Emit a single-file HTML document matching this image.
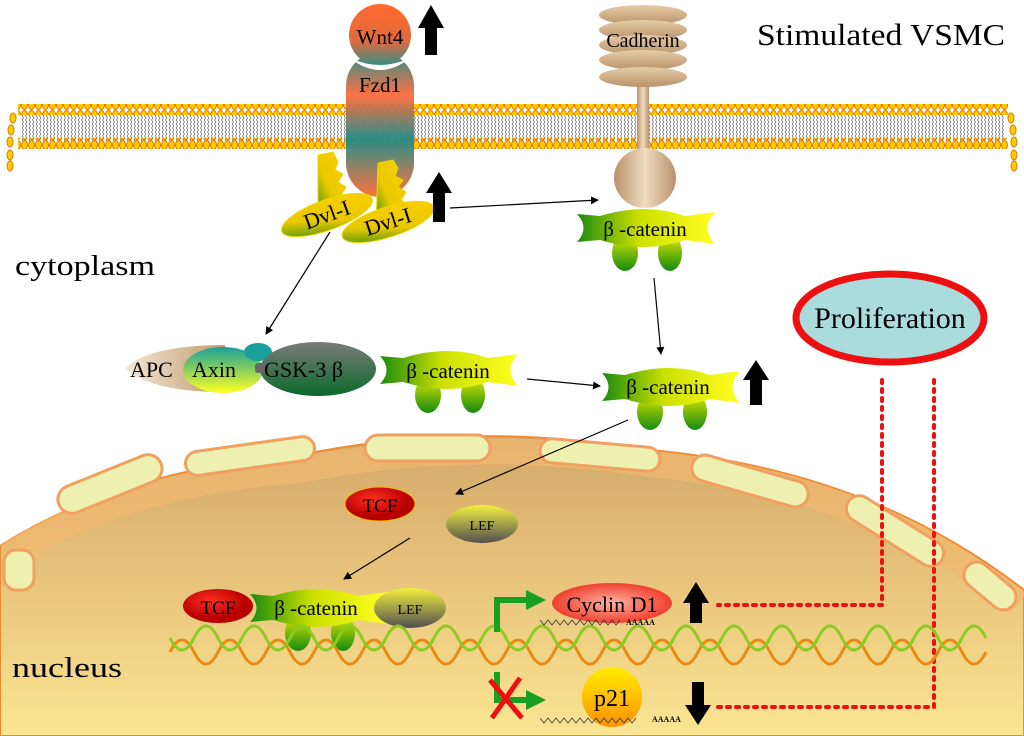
<!DOCTYPE html>
<html><head><meta charset="utf-8"><style>
html,body{margin:0;padding:0;background:#fff}
svg{display:block}
text{font-family:"Liberation Serif",serif}
</style></head><body>
<svg width="1024" height="736" viewBox="0 0 1024 736" xmlns="http://www.w3.org/2000/svg">
<defs>
<linearGradient id="nuc" x1="0" y1="0" x2="0" y2="1">
<stop offset="0" stop-color="#d2a868"/><stop offset="0.5" stop-color="#e9c57c"/><stop offset="1" stop-color="#fbe592"/></linearGradient>
<linearGradient id="wnt" x1="0" y1="0" x2="0" y2="1"><stop offset="0" stop-color="#ff6a2a"/><stop offset="0.6" stop-color="#e06a40"/><stop offset="1" stop-color="#2e8f86"/></linearGradient>
<linearGradient id="fzd" x1="0" y1="0" x2="0" y2="1"><stop offset="0" stop-color="#1f8a86"/><stop offset="0.3" stop-color="#ff6a3a"/><stop offset="0.6" stop-color="#1f8a86"/><stop offset="1" stop-color="#ff6a30"/></linearGradient>
<linearGradient id="bc" x1="0" y1="0" x2="1" y2="0"><stop offset="0" stop-color="#1a8a10"/><stop offset="0.45" stop-color="#cce000"/><stop offset="1" stop-color="#ffff20"/></linearGradient>
<linearGradient id="foot" x1="0" y1="0" x2="0" y2="1"><stop offset="0" stop-color="#e0e800"/><stop offset="1" stop-color="#148a10"/></linearGradient>
<linearGradient id="dvl" x1="1" y1="0" x2="0" y2="1"><stop offset="0" stop-color="#ffd000"/><stop offset="0.6" stop-color="#e8c800"/><stop offset="1" stop-color="#2a8a10"/></linearGradient>
<linearGradient id="cad" x1="0" y1="0" x2="0" y2="1"><stop offset="0" stop-color="#e8cca8"/><stop offset="1" stop-color="#b8926a"/></linearGradient>
<linearGradient id="cad2" x1="0" y1="0" x2="1" y2="0"><stop offset="0" stop-color="#b8926a"/><stop offset="0.5" stop-color="#f0dcc0"/><stop offset="1" stop-color="#b8926a"/></linearGradient>
<radialGradient id="tcf" cx="0.4" cy="0.35"><stop offset="0" stop-color="#ff3020"/><stop offset="1" stop-color="#b80000"/></radialGradient>
<linearGradient id="lef" x1="0" y1="0" x2="0" y2="1"><stop offset="0" stop-color="#f4f040"/><stop offset="1" stop-color="#505050"/></linearGradient>
<radialGradient id="cyc" cx="0.5" cy="0.5"><stop offset="0" stop-color="#ffb0a0"/><stop offset="1" stop-color="#f04030"/></radialGradient>
<linearGradient id="p21" x1="0" y1="0" x2="0" y2="1"><stop offset="0" stop-color="#ffee00"/><stop offset="1" stop-color="#ff9000"/></linearGradient>
<linearGradient id="gsk" x1="0" y1="0" x2="0" y2="1"><stop offset="0" stop-color="#7a7a7a"/><stop offset="1" stop-color="#0a6a2a"/></linearGradient>
<linearGradient id="axin" x1="0" y1="0" x2="0" y2="1"><stop offset="0" stop-color="#1aa09a"/><stop offset="1" stop-color="#ffff20"/></linearGradient>
<linearGradient id="apc" x1="0" y1="0" x2="1" y2="0"><stop offset="0" stop-color="#f4e8d8"/><stop offset="1" stop-color="#c09a6a"/></linearGradient>
<pattern id="heads" x="0" y="0" width="7" height="10" patternUnits="userSpaceOnUse"><ellipse cx="3.5" cy="5" rx="3" ry="4.5" fill="#ffcc00" stroke="#e07a00" stroke-width="1"/></pattern>
<pattern id="tails" x="0" y="0" width="3.5" height="8" patternUnits="userSpaceOnUse"><path d="M1 0 L2.5 2 L1 4 L2.5 6 L1 8" stroke="#444" stroke-width="0.6" fill="none"/></pattern>
<marker id="ah" markerWidth="8" markerHeight="8" refX="7" refY="4" orient="auto" markerUnits="userSpaceOnUse"><path d="M0 0 L8 4 L0 8 Z" fill="#000"/></marker>
<g id="bcat">
<ellipse cx="-20" cy="25" rx="13" ry="18" fill="url(#foot)"/>
<ellipse cx="25" cy="25" rx="12" ry="18" fill="url(#foot)"/>
<path d="M-68 -14 L-45 -12 Q0 -26 40 -12 L70 -16 Q55 0 70 16 L40 12 Q0 26 -45 12 L-68 14 Q-55 0 -68 -14 Z" fill="url(#bc)"/>
</g>
</defs>

<!-- nucleus -->
<path d="M0 546 Q120 470 300 455 Q470 420 650 450 Q870 470 1024 590 L1024 736 L0 736 Z" fill="url(#nuc)" stroke="#f08a30" stroke-width="2"/>
<path d="M8 556 Q120 484 300 470 Q470 436 650 464 Q870 484 1018 604" fill="none" stroke="#f0b870" stroke-width="26" opacity="0.75"/>
<g fill="#eef0b0" stroke="#f0a060" stroke-width="3">
<rect x="55" y="470" width="110" height="28" rx="14" transform="rotate(-22 110 484)"/>
<rect x="185" y="444" width="130" height="24" rx="12" transform="rotate(-8 250 456)"/>
<rect x="365" y="435" width="125" height="26" rx="13"/>
<rect x="540" y="443" width="120" height="24" rx="12" transform="rotate(5 600 455)"/>
<rect x="690" y="468" width="120" height="26" rx="13" transform="rotate(16 750 481)"/>
<rect x="840" y="518" width="110" height="26" rx="13" transform="rotate(32 895 531)"/>
<rect x="960" y="573" width="60" height="26" rx="13" transform="rotate(40 990 586)"/>
<rect x="4" y="550" width="30" height="40" rx="12"/>
</g>

<!-- membrane -->
<rect x="20" y="114" width="985" height="28" fill="url(#tails)"/>
<rect x="18" y="104" width="990" height="11" fill="url(#heads)"/>
<rect x="18" y="138" width="990" height="11" fill="url(#heads)"/>
<g fill="#ffcc00" stroke="#e07a00" stroke-width="1">
<ellipse cx="13" cy="118" rx="3" ry="5"/><ellipse cx="11" cy="130" rx="3" ry="5"/><ellipse cx="10" cy="142" rx="3" ry="5"/><ellipse cx="10" cy="155" rx="3" ry="5"/><ellipse cx="10" cy="166" rx="3" ry="5"/>
<ellipse cx="1011" cy="118" rx="3" ry="5"/><ellipse cx="1013" cy="130" rx="3" ry="5"/><ellipse cx="1014" cy="142" rx="3" ry="5"/><ellipse cx="1014" cy="155" rx="3" ry="5"/><ellipse cx="1014" cy="166" rx="3" ry="5"/>
</g>

<!-- Wnt4 / Fzd1 -->
<rect x="346" y="52" width="68" height="145" rx="34" fill="url(#fzd)" opacity="0.95"/>
<circle cx="380" cy="35" r="31" fill="url(#wnt)"/>
<path d="M350 58 Q380 82 410 58 Q380 72 350 58 Z" fill="#fff"/>
<text x="380" y="44" font-size="21" text-anchor="middle">Wnt4</text>
<text x="380" y="92" font-size="21" text-anchor="middle">Fzd1</text>
<path d="M425 55 L425 28 L418 28 L431 5 L444 28 L437 28 L437 55 Z" fill="#000"/>

<!-- Dvl-I -->
<g fill="url(#dvl)" stroke="#e8d800" stroke-width="1">
<path d="M318 155 L333 152 L338 162 L335 170 L343 174 L338 182 L346 187 L341 195 L352 200 L347 212 L318 222 Z"/>
<ellipse cx="327" cy="215" rx="48" ry="15" transform="rotate(-20 327 215)"/>
<path d="M378 163 L393 160 L398 168 L395 176 L403 180 L398 187 L406 192 L401 200 L410 206 L404 218 L376 228 Z"/>
<ellipse cx="388" cy="222" rx="48" ry="15" transform="rotate(-18 388 222)"/>
</g>
<text x="327" y="222" font-size="22" text-anchor="middle" transform="rotate(-20 327 215)">Dvl-I</text>
<text x="388" y="229" font-size="22" text-anchor="middle" transform="rotate(-18 388 222)">Dvl-I</text>
<path d="M433 222 L433 193 L426 193 L439 172 L452 193 L445 193 L445 222 Z" fill="#000"/>

<!-- Cadherin -->
<rect x="637" y="80" width="12" height="80" fill="url(#cad2)"/>
<g fill="url(#cad)">
<ellipse cx="643" cy="15" rx="44" ry="10"/><ellipse cx="643" cy="30" rx="44" ry="10"/>
<ellipse cx="643" cy="45" rx="44" ry="10"/><ellipse cx="643" cy="60" rx="44" ry="10"/><ellipse cx="643" cy="77" rx="44" ry="10"/>
</g>
<text x="643" y="47" font-size="20" text-anchor="middle">Cadherin</text>
<ellipse cx="645" cy="178" rx="31" ry="30" fill="url(#cad2)"/>

<text x="757" y="45" font-size="31" textLength="248" lengthAdjust="spacingAndGlyphs">Stimulated VSMC</text>
<text x="15" y="275" font-size="29" textLength="140" lengthAdjust="spacingAndGlyphs">cytoplasm</text>
<text x="12" y="677" font-size="29" textLength="110" lengthAdjust="spacingAndGlyphs">nucleus</text>

<use href="#bcat" x="645" y="228"/>
<text x="645" y="236" font-size="21" text-anchor="middle">β -catenin</text>

<!-- APC complex -->
<path d="M125 368 Q150 345 225 345 L225 392 Q150 392 125 368 Z" fill="url(#apc)"/>
<ellipse cx="223" cy="370" rx="40" ry="23" fill="url(#axin)"/>
<ellipse cx="258" cy="352" rx="14" ry="9" fill="#1aa09a"/>
<ellipse cx="318" cy="369" rx="58" ry="27" fill="url(#gsk)"/>
<rect x="255" y="363" width="12" height="10" rx="3" fill="#666"/>
<text x="130" y="377" font-size="22">APC</text>
<text x="192" y="377" font-size="22">Axin</text>
<text x="264" y="377" font-size="22">GSK-3 β</text>
<use href="#bcat" x="448" y="370"/>
<text x="448" y="378" font-size="21" text-anchor="middle">β -catenin</text>

<use href="#bcat" x="670" y="387"/>
<text x="668" y="394" font-size="21" text-anchor="middle">β -catenin</text>
<path d="M750 405 L750 380 L743 380 L756 360 L769 380 L762 380 L762 405 Z" fill="#000"/>

<g stroke="#000" stroke-width="1.2" fill="none" marker-end="url(#ah)">
<line x1="450" y1="208" x2="598" y2="200"/>
<line x1="330" y1="232" x2="266" y2="334"/>
<line x1="654" y1="278" x2="661" y2="354"/>
<line x1="527" y1="379" x2="600" y2="386"/>
<line x1="628" y1="420" x2="456" y2="494"/>
<line x1="410" y1="538" x2="344" y2="579"/>
</g>

<ellipse cx="890" cy="318" rx="94" ry="44" fill="#aadcde" stroke="#ee1010" stroke-width="7"/>
<text x="890" y="328" font-size="30" text-anchor="middle">Proliferation</text>

<g stroke="#ee1010" stroke-width="4" stroke-dasharray="3 6" fill="none" stroke-linecap="round">
<path d="M882 380 L882 605 L718 605"/>
<path d="M934 380 L934 707 L718 707"/>
</g>

<ellipse cx="380" cy="504" rx="35" ry="17" fill="url(#tcf)" stroke="#f0c000" stroke-width="1"/>
<text x="380" y="512" font-size="19" text-anchor="middle">TCF</text>
<ellipse cx="482" cy="524" rx="36" ry="19" fill="url(#lef)"/>
<text x="482" y="530" font-size="14" text-anchor="middle">LEF</text>

<use href="#bcat" x="318" y="608"/>
<ellipse cx="218" cy="606" rx="35" ry="17" fill="url(#tcf)"/>
<text x="218" y="614" font-size="19" text-anchor="middle">TCF</text>
<ellipse cx="410" cy="608" rx="36" ry="20" fill="url(#lef)"/>
<text x="410" y="614" font-size="14" text-anchor="middle">LEF</text>
<text x="316" y="615" font-size="21" text-anchor="middle">β -catenin</text>

<!-- DNA -->
<g fill="none" stroke-width="3">
<path d="M170 652 q12 -24 24 0 t24 0 t24 0 t24 0 t24 0 t24 0 t24 0 t24 0 t24 0 t24 0 t24 0 t24 0 t24 0 t24 0 t24 0 t24 0 t24 0 t24 0 t24 0 t24 0 t24 0 t24 0 t24 0 t24 0 t24 0 t24 0 t24 0 t24 0 t24 0 t24 0 t24 0 t24 0 t24 0 t24 0" stroke="#e88a10"/>
<path d="M170 638 q12 24 24 0 t24 0 t24 0 t24 0 t24 0 t24 0 t24 0 t24 0 t24 0 t24 0 t24 0 t24 0 t24 0 t24 0 t24 0 t24 0 t24 0 t24 0 t24 0 t24 0 t24 0 t24 0 t24 0 t24 0 t24 0 t24 0 t24 0 t24 0 t24 0 t24 0 t24 0 t24 0 t24 0 t24 0" stroke="#8acc20"/>
</g>

<path d="M497 632 L497 600 L528 600" stroke="#18a020" stroke-width="6" fill="none"/>
<path d="M526 590 L546 600 L526 610 Z" fill="#18a020"/>
<ellipse cx="612" cy="603" rx="60" ry="20" fill="url(#cyc)"/>
<text x="612" y="612" font-size="22" text-anchor="middle">Cyclin D1</text>
<path d="M540 620 l4 5 l4 -5 l4 5 l4 -5 l4 5 l4 -5 l4 5 l4 -5 l4 5 l4 -5 l4 5 l4 -5 l4 5 l4 -5 l4 5 l4 -5 l4 5 l4 -5 l4 5 l4 -5" stroke="#333" stroke-width="0.8" fill="none"/>
<text x="626" y="625" font-size="8" font-family="Liberation Sans" font-weight="bold">AAAAA</text>
<path d="M690 623 L690 603 L683 603 L696 582 L709 603 L702 603 L702 623 Z" fill="#000"/>

<path d="M497 672 L497 700 L528 700" stroke="#18a020" stroke-width="6" fill="none"/>
<path d="M526 690 L546 700 L526 710 Z" fill="#18a020"/>
<path d="M490 680 L522 718 M520 678 L492 718" stroke="#ee1010" stroke-width="5"/>
<circle cx="612" cy="697" r="30" fill="url(#p21)"/>
<text x="612" y="706" font-size="24" text-anchor="middle">p21</text>
<path d="M540 718 l4 5 l4 -5 l4 5 l4 -5 l4 5 l4 -5 l4 5 l4 -5 l4 5 l4 -5 l4 5 l4 -5 l4 5 l4 -5 l4 5 l4 -5 l4 5 l4 -5 l4 5 l4 -5 l4 5 l4 -5 l4 5 l4 -5" stroke="#333" stroke-width="0.8" fill="none"/>
<text x="652" y="722" font-size="8" font-family="Liberation Sans" font-weight="bold">AAAAA</text>
<path d="M692 682 L692 705 L685 705 L698 725 L711 705 L704 705 L704 682 Z" fill="#000"/>
</svg>
</body></html>
